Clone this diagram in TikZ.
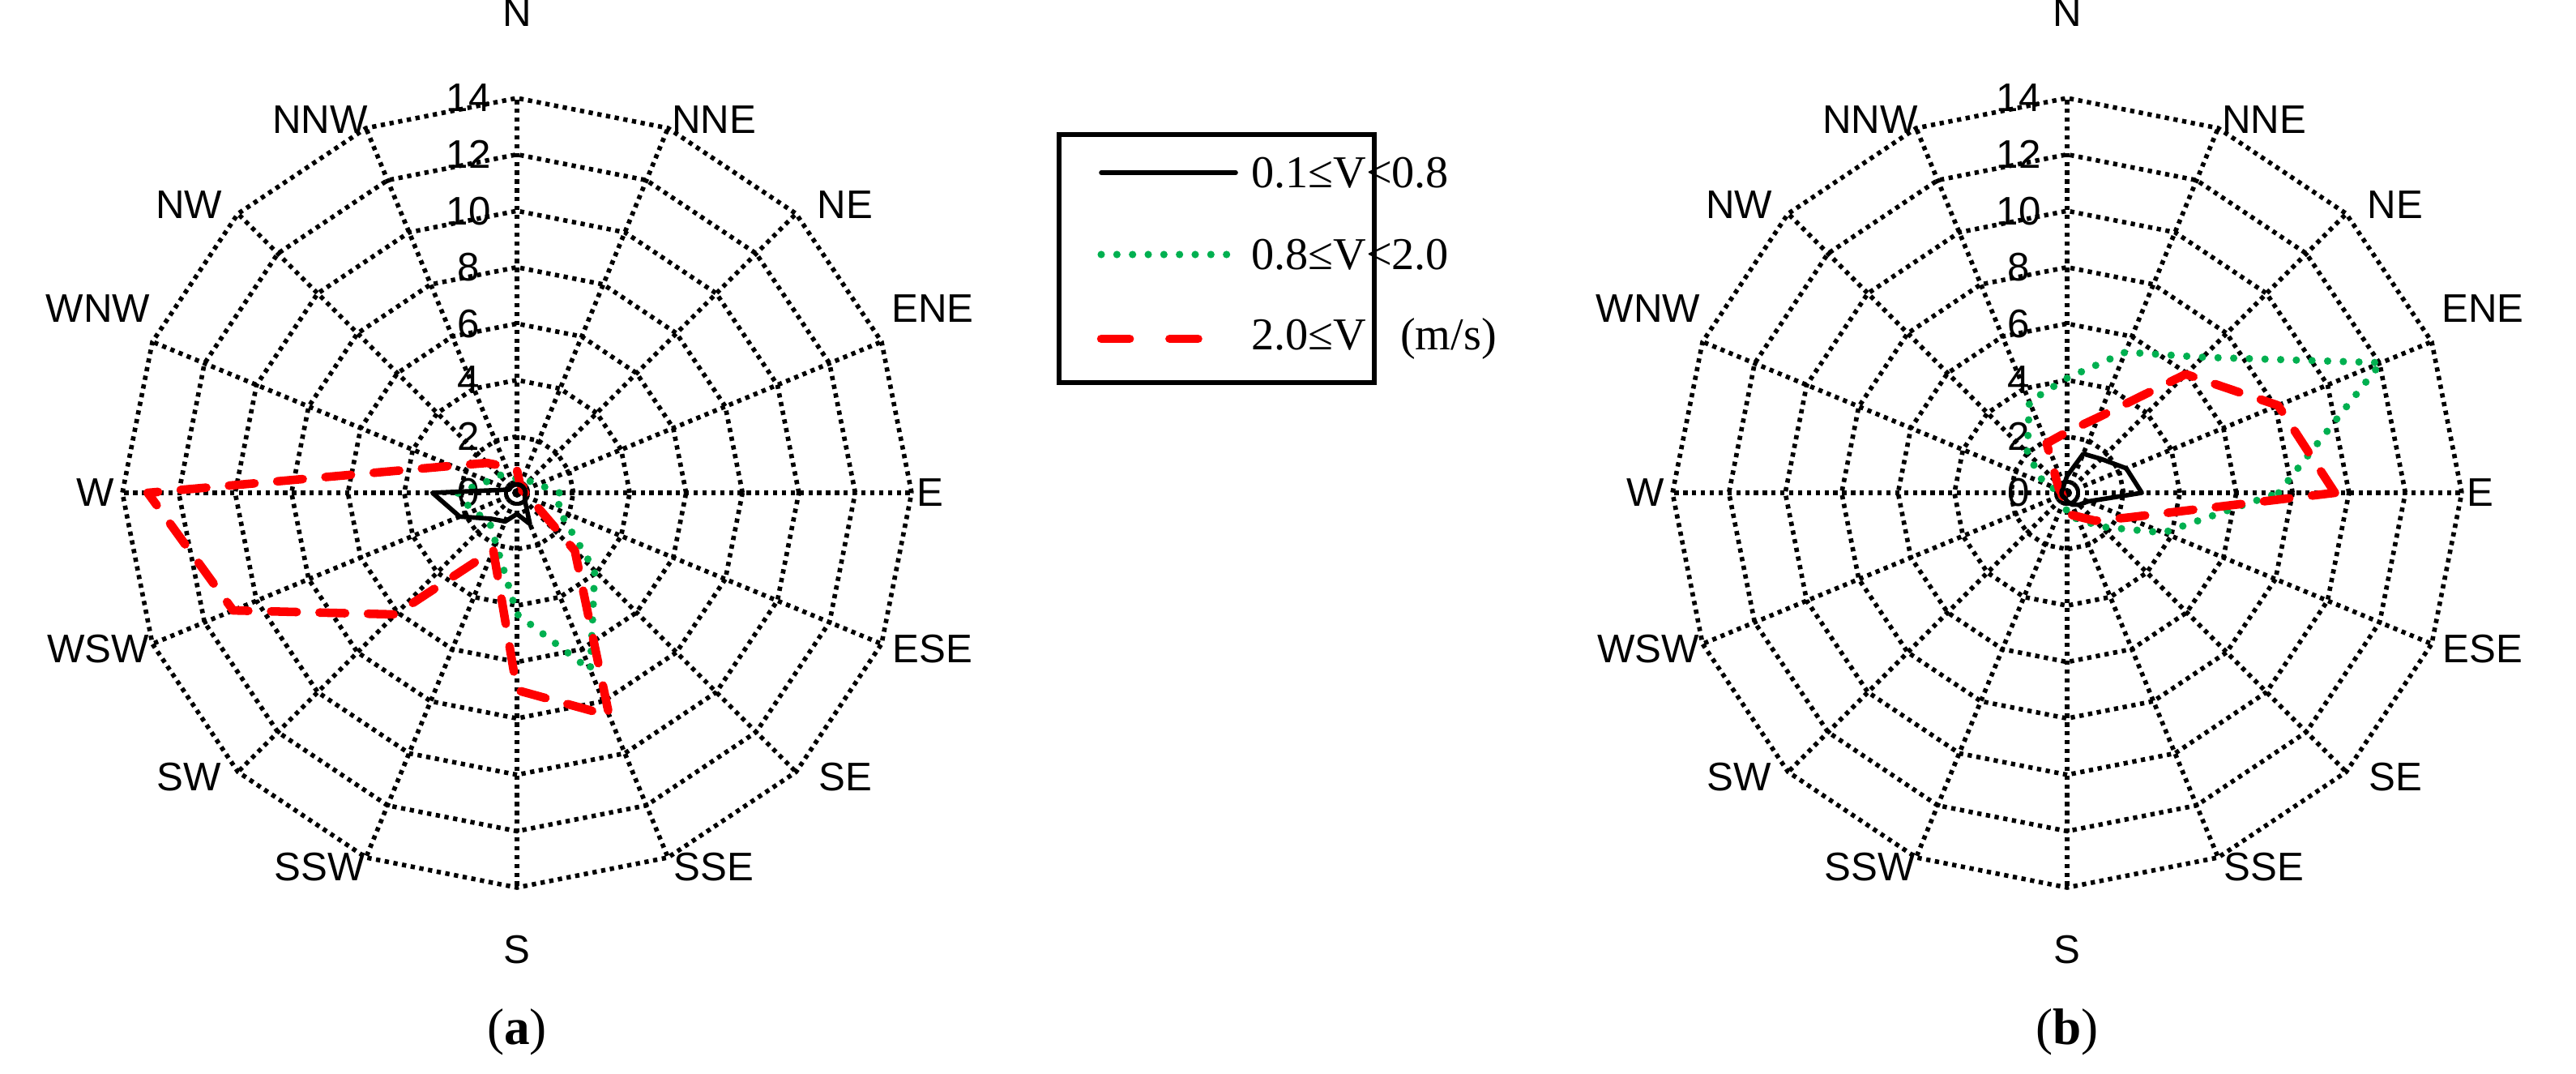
\documentclass[tikz,border=0pt]{standalone}
\usepackage{fontspec}
\setmainfont{Liberation Serif}
\newfontfamily\lab{Liberation Sans}
\tikzset{
 grid/.style={line width=1.6pt,dash pattern=on 1.5pt off 1.6pt},
 blk/.style={line width=1.6pt,black,line join=round},
 grn/.style={line width=2.6pt,color=gGreen,dash pattern=on 0pt off 5.5pt,line cap=round},
 rd/.style={line width=3pt,red,dash pattern=on 9pt off 8pt,line cap=round,line join=round},
 dirlab/.style={font=\lab\fontsize{14}{14}\selectfont,inner sep=0pt},
 numlab/.style={font=\lab\fontsize{14}{14}\selectfont,inner sep=0pt},
}
\definecolor{gGreen}{RGB}{0,176,80}
\def\R{4.87}
\def\U{0.347857}
\newcommand{\rose}[5]{%
 \begin{scope}[shift={#1}]
  \foreach \k in {2,4,...,14}{
   \draw[grid] (0:\k*\U) \foreach \a in {22.5,45,...,337.5}{ -- (\a:\k*\U)} -- cycle;}
  \foreach \a in {0,22.5,...,337.5}{\draw[grid] (0,0) -- (\a:\R);}
  \foreach \k in {0,2,...,14}{\node[numlab] (n#5\k) at (-0.6,\k*\U) {\k};}
  \foreach \nm/\px/\py [count=\i from 0] in {E/5.1/0,ENE/5.13/2.27,NE/4.05/3.55,NNE/2.43/4.6,N/0/5.92,NNW/-2.43/4.6,NW/-4.05/3.55,WNW/-5.17/2.27,W/-5.2/0,WSW/-5.17/-1.93,SW/-4.05/-3.51,SSW/-2.43/-4.62,S/0/-5.64,SSE/2.43/-4.62,SE/4.05/-3.51,ESE/5.13/-1.93}{
   \node[dirlab] (d#5\i) at (\px,\py) {\nm};}
  \draw[grn] #3;
  \draw[rd] #4;
  \draw[blk] #2;
 \end{scope}}
\newcommand{\poly}[2]{(0:#1*\U) \foreach \v [count=\i from 1] in {#2}{ -- (\i*22.5:\v*\U)} -- cycle}
\begin{document}
\begin{tikzpicture}
\useasboundingbox (0,0) rectangle (31.79,13.24);
\rose{(6.38,7.16)}
 {\poly{0.3}{0.3,0.3,0.3,0.3,0.3,0.3,0.3,3.0,2.2,1.3,1.1,0.75,1.2,0.4,0.3}}
 {\poly{1.5}{0.8,0.6,0.6,0.5,0.6,0.9,1.1,2.1,1.7,1.4,1.95,4.3,6.8,3.9,1.6}}
 {\poly{0.3}{0.2,0.3,0.3,0.8,1.0,1.5,2.5,13.1,10.9,6.1,2.2,7.0,8.55,2.9,0.5}}{a}
\rose{(25.51,7.16)}
 {\poly{2.65}{2.27,1.7,1.5,0.6,0.3,0.2,0.2,0.2,0.2,0.2,0.2,0.3,0.45,0.6,0.8}}
 {\poly{7.5}{12.06,6.8,5.4,4.07,3.5,2.0,0.9,0.2,0.3,0.2,0.2,0.84,1.0,1.7,3.7}}
 {\poly{9.5}{8.1,5.95,2.9,2.16,1.9,0.5,0.3,0.2,0.2,0.2,0.3,0.74,0.9,1.4,2.3}}{b}
% legend
\node[draw,line width=1.6pt,minimum width=3.89cm,minimum height=3.06cm,anchor=north west] (leg) at (13.04,11.61) {};
\coordinate (l1a) at (13.59,11.11); \coordinate (l1b) at (15.25,11.11);
\coordinate (l2a) at (13.59,10.10); \coordinate (l2b) at (15.25,10.10);
\coordinate (l3a) at (13.59,9.06); \coordinate (l3b) at (15.25,9.06);
\draw[blk,line cap=round] (l1a) -- (l1b);
\draw[grn] (l2a) -- (l2b);
\draw[rd,dash pattern=on 10pt off 14pt] (l3a) -- (l3b);
\node[anchor=west,font=\fontsize{16}{16}\selectfont,inner sep=1pt] (t1) at (15.40,11.11) {0.1≤V{}<{}0.8};
\node[anchor=west,font=\fontsize{16}{16}\selectfont,inner sep=1pt] (t2) at (15.40,10.10) {0.8≤V{}<{}2.0};
\node[anchor=west,font=\fontsize{16}{16}\selectfont,inner sep=1pt] (t3) at (15.40,9.06) {2.0≤V\ \ \ (m/s)};
\node[font=\fontsize{18}{18}\selectfont] (ca) at (6.38,0.51) {(\textbf{a})};
\node[font=\fontsize{18}{18}\selectfont] (cb) at (25.51,0.51) {(\textbf{b})};
\end{tikzpicture}
\end{document}
